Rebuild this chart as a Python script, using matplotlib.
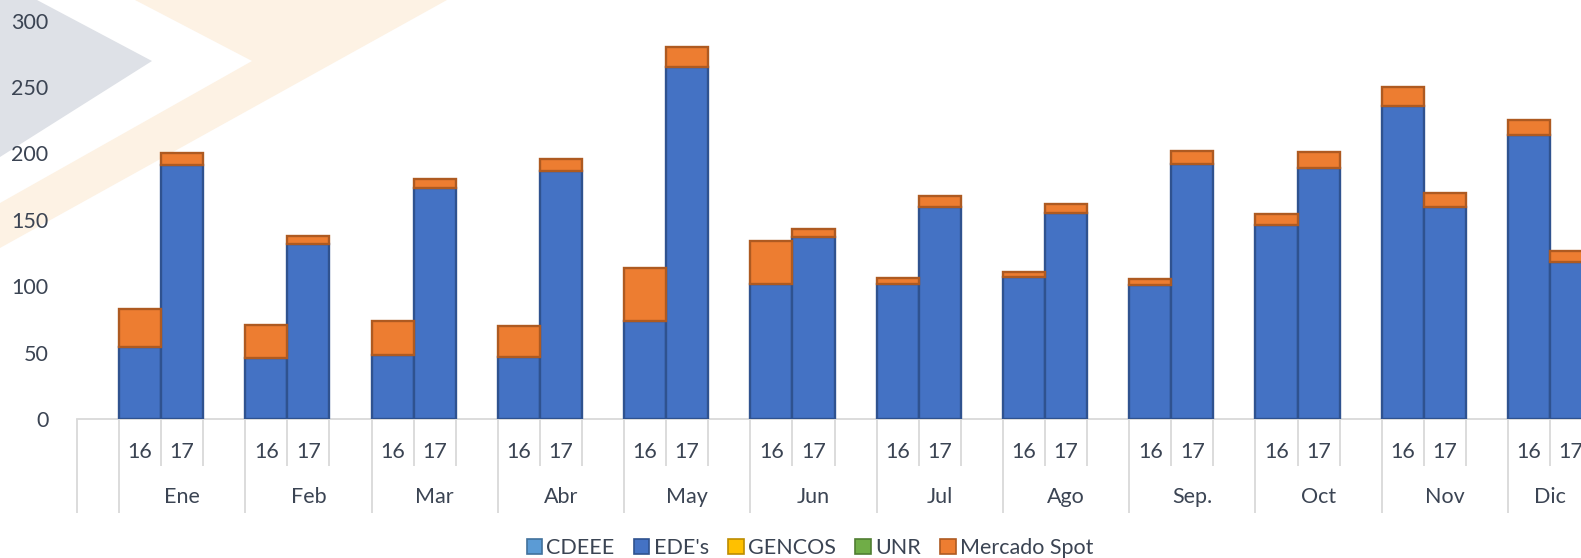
import numpy as np
import matplotlib.pyplot as plt
from matplotlib.patches import Patch, Polygon

months = ['Ene', 'Feb', 'Mar', 'Abr', 'May', 'Jun', 'Jul', 'Ago', 'Sep.', 'Oct', 'Nov', 'Dic']
years = ['16', '17']
series = ['CDEEE', "EDE's", 'GENCOS', 'UNR', 'Mercado Spot']

# values per month, year 16 then year 17
cdeee_16 = [0] * 12
cdeee_17 = [0] * 12
ede_16 = [54, 46, 48, 47, 74, 102, 102, 107, 101, 146, 236, 214]
ede_17 = [191, 132, 174, 187, 265, 137, 160, 155, 192, 189, 160, 118]
gencos_16 = [0] * 12
gencos_17 = [0] * 12
unr_16 = [0] * 12
unr_17 = [0] * 12
spot_16 = [29, 25, 26, 23, 40, 32, 4, 3.5, 4.5, 8, 14, 11]
spot_17 = [9.5, 6, 7, 9, 15, 6, 8, 7, 10, 12, 10, 8.5]

colors = ['#5B9BD5', '#4472C4', '#FFC000', '#70AD47', '#ED7D31']
edges = ['#41719C', '#2F528F', '#BC8C00', '#507E32', '#AE5A21']
txt = '#3b4453'
grid = '#d9d9d9'

plt.rcParams['font.family'] = ['Lato', 'DejaVu Sans']

W, H = 1581, 558
fig = plt.figure(figsize=(W / 100, H / 100), dpi=100)

# watermark chevrons in the background
bg = fig.add_axes([0, 0, 1, 1], zorder=0)
bg.set_xlim(0, W)
bg.set_ylim(H, 0)
bg.axis('off')
bg.add_patch(Polygon([(0, 0), (37, 0), (152, 61), (0, 157)], closed=True,
                     facecolor='#dee1e7', edgecolor='none'))
bg.add_patch(Polygon([(135, 0), (447, 0), (0, 248), (0, 203), (252, 61)], closed=True,
                     facecolor='#fdf2e4', edgecolor='none'))

nslots = 36
slot_px = 42.09
left_px = 76.9
bottom_px = 419
px_per_unit = 1.328
ax = fig.add_axes([left_px / W, (H - bottom_px) / H, nslots * slot_px / W, 300 * px_per_unit / H], zorder=1)
ax.patch.set_alpha(0)

x16 = np.array([1 + 3 * m + 0.5 for m in range(12)])
x17 = x16 + 1
xs = np.concatenate([x16, x17])

data = [
    (cdeee_16, cdeee_17),
    (ede_16, ede_17),
    (gencos_16, gencos_17),
    (unr_16, unr_17),
    (spot_16, spot_17),
]
bottom = np.zeros(24)
for k, (a, b) in enumerate(data):
    h = np.array(a + b, dtype=float)
    lw = np.where(h > 0, 1.7, 0)
    ax.bar(xs, h, width=1.0, bottom=bottom, color=colors[k], edgecolor=edges[k],
           linewidth=lw, zorder=3)
    bottom += h

ax.set_xlim(0, nslots)
ax.set_ylim(0, 300)
ax.set_yticks(range(0, 301, 50))
ax.set_xticks([])
ax.tick_params(axis='y', left=False, pad=17, labelsize=15.5, labelcolor=txt)
for s in ['top', 'right', 'left']:
    ax.spines[s].set_visible(False)
ax.spines['bottom'].set_color(grid)
ax.spines['bottom'].set_linewidth(1.3)

# multi-level category axis
inner_y = -(466 - bottom_px) / px_per_unit
outer_y = -(513 - bottom_px) / px_per_unit
lab_y1 = -(452 - bottom_px) / px_per_unit
lab_y2 = -(497 - bottom_px) / px_per_unit

outer_x = [0] + [1 + 3 * m for m in range(12)]
inner_x = [2 + 3 * m for m in range(12)] + [3 + 3 * m for m in range(12)]
ax.vlines(outer_x, outer_y, 0, colors=grid, linewidth=1.3, clip_on=False)
ax.vlines(inner_x, inner_y, 0, colors=grid, linewidth=1.3, clip_on=False)

for m, name in enumerate(months):
    start = 1 + 3 * m
    end = min(start + 3, nslots)
    ax.text(x16[m], lab_y1, years[0], ha='center', va='center', fontsize=15.5, color=txt, clip_on=False)
    ax.text(x17[m], lab_y1, years[1], ha='center', va='center', fontsize=15.5, color=txt, clip_on=False)
    ax.text((start + end) / 2, lab_y2, name, ha='center', va='center', fontsize=15.5, color=txt, clip_on=False)

handles = [Patch(facecolor=c, edgecolor=e, linewidth=1.2) for c, e in zip(colors, edges)]
fig.legend(handles, series, loc='center', bbox_to_anchor=(810 / W, (H - 548) / H), ncol=5,
           frameon=False, fontsize=15.5, labelcolor=txt, handlelength=0.72, handleheight=0.72,
           handletextpad=0.2, columnspacing=0.9, borderaxespad=0)

fig.savefig('out.png', dpi=100)
